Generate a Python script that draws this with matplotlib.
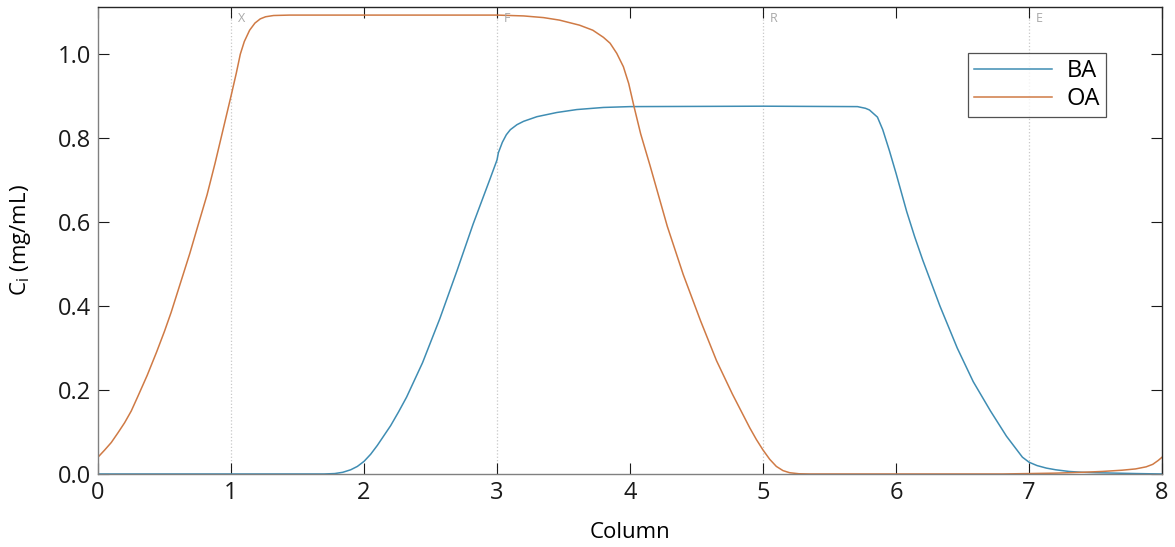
import numpy as np
import matplotlib.pyplot as plt

# values
oa_x = [0, 0.05, 0.1, 0.15, 0.2, 0.25, 0.3, 0.37, 0.44, 0.5, 0.55, 0.62, 0.69, 0.75,
        0.82, 0.88, 0.94, 1.0, 1.04, 1.07, 1.10, 1.14, 1.18, 1.22, 1.26, 1.32, 1.44,
        2.0, 3.0, 3.2, 3.35, 3.47, 3.62, 3.72, 3.80, 3.85, 3.90, 3.95, 3.99, 4.03,
        4.08, 4.15, 4.28, 4.40, 4.53, 4.65, 4.77, 4.90, 4.95, 5.0, 5.05, 5.1, 5.15,
        5.2, 5.27, 5.35, 6.0, 6.8, 7.0, 7.2, 7.4, 7.55, 7.7, 7.8, 7.88, 7.93, 7.97, 8.0]
oa_c = [0.04, 0.057, 0.075, 0.098, 0.122, 0.15, 0.185, 0.235, 0.29, 0.34, 0.385, 0.455,
        0.525, 0.59, 0.665, 0.74, 0.82, 0.90, 0.955, 1.00, 1.03, 1.057, 1.074, 1.084,
        1.089, 1.092, 1.093, 1.093, 1.093, 1.091, 1.087, 1.081, 1.069, 1.057, 1.04,
        1.026, 1.002, 0.97, 0.93, 0.875, 0.81, 0.735, 0.59, 0.475, 0.365, 0.27, 0.19,
        0.11, 0.082, 0.057, 0.035, 0.018, 0.008, 0.003, 0.0005, 0.0, 0.0, 0.0, 0.001,
        0.002, 0.004, 0.006, 0.009, 0.012, 0.017, 0.023, 0.032, 0.04]

ba_x = [0, 1.7, 1.78, 1.84, 1.9, 1.95, 2.0, 2.05, 2.1, 2.2, 2.26, 2.32, 2.44, 2.57,
        2.70, 2.82, 2.95, 3.0, 3.01, 3.04, 3.07, 3.1, 3.15, 3.2, 3.3, 3.45, 3.6, 3.8,
        4.0, 5.0, 5.71, 5.77, 5.80, 5.86, 5.90, 5.95, 6.0, 6.08, 6.14, 6.2, 6.33, 6.46,
        6.58, 6.71, 6.83, 6.95, 7.0, 7.06, 7.13, 7.2, 7.3, 7.4, 7.5, 7.65, 7.8, 8.0]
ba_c = [0, 0, 0.001, 0.004, 0.01, 0.018, 0.03, 0.047, 0.068, 0.115, 0.148, 0.183,
        0.265, 0.37, 0.485, 0.595, 0.705, 0.748, 0.765, 0.79, 0.808, 0.82, 0.832, 0.84,
        0.851, 0.861, 0.868, 0.873, 0.875, 0.876, 0.875, 0.871, 0.867, 0.85, 0.82,
        0.77, 0.716, 0.625, 0.565, 0.51, 0.40, 0.30, 0.22, 0.15, 0.09, 0.04, 0.028,
        0.02, 0.014, 0.01, 0.006, 0.004, 0.003, 0.002, 0.001, 0.0]

zone_x = [1, 3, 5, 7]
zone_labels = ['X', 'F', 'R', 'E']

plt.rcParams['font.family'] = ['Open Sans', 'DejaVu Sans']

fig = plt.figure(figsize=(11.75, 5.47), dpi=100)
ax = fig.add_axes([0.0834, 0.1335, 0.9056, 0.8535])

for zx, lab in zip(zone_x, zone_labels):
    ax.axvline(zx, color='#c8c8c8', linestyle=':', linewidth=0.9, zorder=0)
    ax.text(zx + 0.05, 1.085, lab, color='#a8a8a8', fontsize=9, va='center', ha='left')

ax.plot(ba_x, ba_c, color='#3f8db3', linewidth=1.1, label='BA')
ax.plot(oa_x, oa_c, color='#cf7a45', linewidth=1.1, label='OA')

ax.set_xlim(0, 8)
ax.set_ylim(0, 1.112)
ax.set_xticks(range(0, 9))
ax.set_yticks(np.arange(0, 1.01, 0.2))
ax.set_yticklabels(['0.0', '0.2', '0.4', '0.6', '0.8', '1.0'])
ax.tick_params(direction='in', length=8, width=0.8, labelsize=17,
               top=True, right=True, colors='#1a1a1a', pad=5)

ax.spines['left'].set_color('#808080')
ax.spines['bottom'].set_color('#808080')
ax.spines['top'].set_color('#262626')
ax.spines['right'].set_color('#262626')
for s in ax.spines.values():
    s.set_linewidth(1.0)

ax.set_xlabel('Column', fontsize=16, labelpad=12)
ax.set_ylabel('C$_\\mathregular{i}$ (mg/mL)', fontsize=16, labelpad=18)

leg = ax.legend(loc='upper right', bbox_to_anchor=(0.947, 0.901), fontsize=17,
                frameon=True, fancybox=False, edgecolor='#262626', borderaxespad=0,
                handlelength=3.3, borderpad=0.25, labelspacing=0.15, handletextpad=0.6)
leg.get_frame().set_linewidth(0.9)

fig.savefig('out.png', dpi=100)
